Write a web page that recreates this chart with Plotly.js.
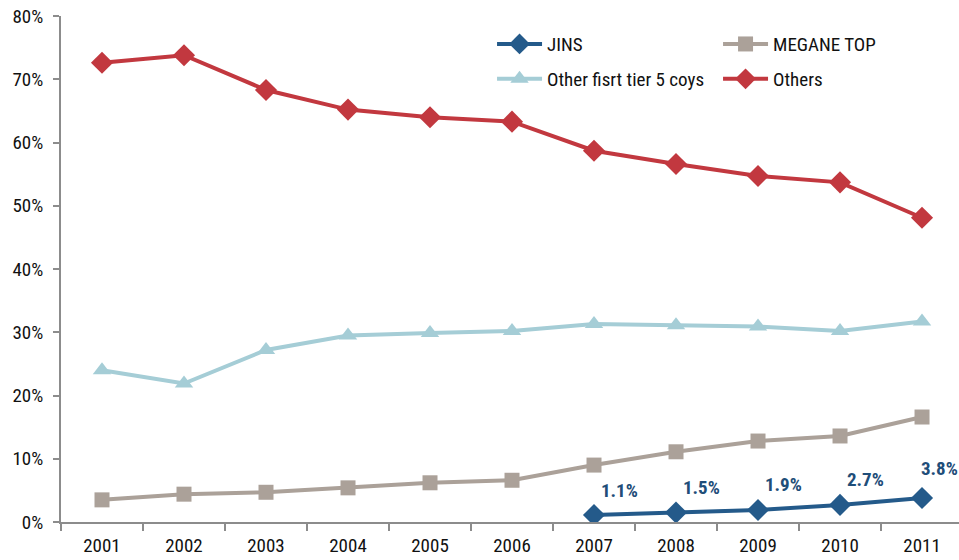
<!DOCTYPE html>
<html><head><meta charset="utf-8">
<script src="https://cdn.plot.ly/plotly-3.0.1.min.js"></script>
<style>html,body{margin:0;padding:0;background:#fff}#chart{width:959px;height:560px}</style>
</head><body><div id="chart"></div>
<script>
const years = ["2001","2002","2003","2004","2005","2006","2007","2008","2009","2010","2011"];
const jinsYears = ["2007","2008","2009","2010","2011"];
const jins = [0.011, 0.015, 0.019, 0.027, 0.038];
const meganeTop = [0.035, 0.044, 0.047, 0.054, 0.062, 0.066, 0.090, 0.111, 0.128, 0.136, 0.166];
const otherTier = [0.240, 0.219, 0.272, 0.295, 0.299, 0.302, 0.313, 0.311, 0.309, 0.302, 0.317];
const others = [0.726, 0.738, 0.683, 0.652, 0.640, 0.633, 0.587, 0.566, 0.547, 0.537, 0.481];
const yTicks = [0, 0.1, 0.2, 0.3, 0.4, 0.5, 0.6, 0.7, 0.8];

const FONT = "'Roboto Condensed', 'Liberation Sans Narrow', 'Arial Narrow', sans-serif";

const traces = [
  {x: jinsYears, y: jins, name: "JINS", mode: "lines+markers", legend: "legend",
   line: {color: "#245A8A", width: 4}, marker: {symbol: "diamond", size: 17, color: "#245A8A"}},
  {x: years, y: meganeTop, name: "MEGANE TOP", mode: "lines+markers", legend: "legend",
   line: {color: "#ABA199", width: 4}, marker: {symbol: "square", size: 15, color: "#ABA199"}},
  {x: years, y: otherTier, name: "Other fisrt tier 5 coys", mode: "lines+markers", legend: "legend2",
   line: {color: "#A5CDD6", width: 4}, marker: {symbol: "triangle-up", size: 16, color: "#A5CDD6"}},
  {x: years, y: others, name: "Others", mode: "lines+markers", legend: "legend2",
   line: {color: "#C2383F", width: 4}, marker: {symbol: "diamond", size: 17, color: "#C2383F"}}
];

const annotations = jinsYears.map((yr, i) => {
  const last = i === jinsYears.length - 1;
  return {
    x: years.indexOf(yr), y: jins[i], xref: "x", yref: "y",
    text: (jins[i]*100).toFixed(1) + "%", showarrow: false,
    xshift: last ? 17 : 25, yshift: last ? 29 : 25,
    font: {family: FONT, size: 19, color: "#1F4E79", weight: "bold"}
  };
});

const legendBase = {orientation: "h", xanchor: "left", yanchor: "top",
  entrywidth: 166, entrywidthmode: "pixels", traceorder: "normal", itemwidth: 45,
  font: {family: FONT, size: 19, color: "#111"}, bgcolor: "rgba(0,0,0,0)"};

const layout = {
  width: 959, height: 560,
  margin: {l: 61, r: 0, t: 16, b: 38},
  paper_bgcolor: "#fff", plot_bgcolor: "#fff",
  font: {family: FONT, size: 19, color: "#111"},
  showlegend: true,
  legend: Object.assign({}, legendBase, {x: 0.48, y: 0.982}),
  legend2: Object.assign({}, legendBase, {x: 0.48, y: 0.913}),
  xaxis: {type: "category", categoryorder: "array", categoryarray: years,
          range: [-0.5, 10.451], showgrid: false, zeroline: false,
          showline: true, linecolor: "#8C8C8C", linewidth: 2,
          ticks: "outside", ticklen: 7, tickcolor: "#8C8C8C", tickwidth: 2, tickson: "boundaries",
          ticklabelstandoff: 5,
          tickfont: {family: FONT, size: 19, color: "#111"}},
  yaxis: {range: [0, 0.8], tickvals: yTicks, tickformat: ".0%", showgrid: false, zeroline: false,
          showline: true, linecolor: "#8C8C8C", linewidth: 2,
          ticks: "outside", ticklen: 6, tickcolor: "#8C8C8C", tickwidth: 2,
          ticklabelstandoff: 6,
          tickfont: {family: FONT, size: 19, color: "#111"}},
  annotations: annotations
};

Plotly.newPlot("chart", traces, layout, {displayModeBar: false, responsive: false});
</script></body></html>
